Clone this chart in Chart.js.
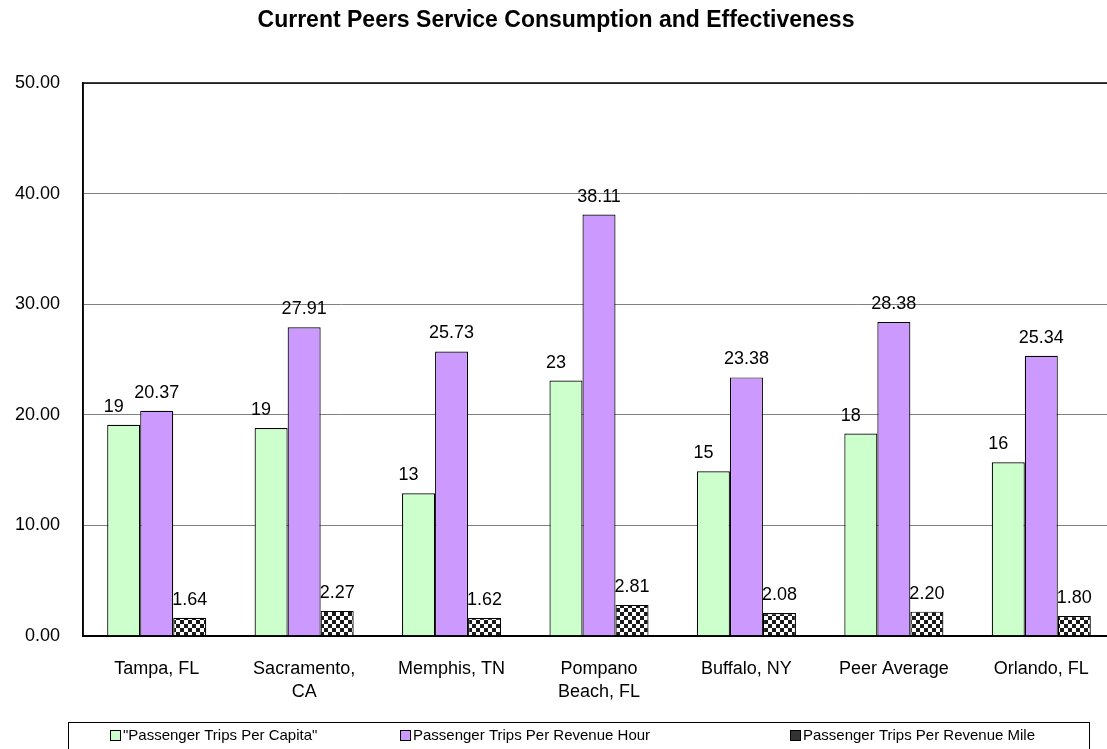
<!DOCTYPE html>
<html>
<head>
<meta charset="utf-8">
<script src="https://cdn.jsdelivr.net/npm/chart.js@4.4.1/dist/chart.umd.min.js"></script>
<style>
  body { margin: 0; background: #fff; }
  #wrap { width: 1107px; height: 749px; overflow: hidden; position: relative; }
</style>
</head>
<body>
<div id="wrap"><canvas id="chart" width="1130" height="749"></canvas></div>
<script>
const chartTitle = 'Current Peers Service Consumption and Effectiveness';
const categories = ['Tampa, FL', ['Sacramento,', 'CA'], 'Memphis, TN', ['Pompano', 'Beach, FL'], 'Buffalo, NY', 'Peer Average', 'Orlando, FL'];
const seriesNames = ['"Passenger Trips Per Capita"', 'Passenger Trips Per Revenue Hour', 'Passenger Trips Per Revenue Mile'];
const tripsPerCapita = [19.1, 18.8, 12.9, 23.1, 14.9, 18.3, 15.7];
const tripsPerHour = [20.37, 27.91, 25.73, 38.11, 23.38, 28.38, 25.34];
const tripsPerMile = [1.64, 2.27, 1.62, 2.81, 2.08, 2.20, 1.80];
const labelDecimals = [0, 2, 2];
const yMin = 0, yMax = 50, yStep = 10;

const FONT = 'Arial, "Liberation Sans", sans-serif';

// checkered fill like the old excel pattern
function makeChecker() {
    let c = document.createElement('canvas');
    c.width = 8; c.height = 8;
    let g = c.getContext('2d');
    g.fillStyle = '#fff';
    g.fillRect(0, 0, 8, 8);
    g.fillStyle = '#1a1a1a';
    g.fillRect(0, 0, 4, 4);
    g.fillRect(4, 4, 4, 4);
    return g.createPattern(c, 'repeat');
}
const checker = makeChecker();

const valueLabels = {
    id: 'valueLabels',
    afterDatasetsDraw(chart) {
        const ctx = chart.ctx;
        const shift = [-10, 0, 0]; // excel nudges the first label left
        ctx.save();
        ctx.font = '18px ' + FONT;
        ctx.fillStyle = '#000';
        ctx.textAlign = 'center';
        ctx.textBaseline = 'alphabetic';
        chart.data.datasets.forEach((ds, i) => {
            chart.getDatasetMeta(i).data.forEach((bar, j) => {
                ctx.fillText(ds.data[j].toFixed(labelDecimals[i]), bar.x + shift[i], bar.y - 13);
            });
        });
        ctx.restore();
    }
};

const frameAndText = {
    id: 'frameAndText',
    afterDraw(chart) {
        const ctx = chart.ctx;
        const a = chart.chartArea;
        ctx.save();
        // plot frame
        ctx.strokeStyle = '#000';
        ctx.lineWidth = 1.5;
        ctx.strokeRect(a.left, a.top, a.right - a.left, a.bottom - a.top);

        // title, centred on the visible picture
        ctx.font = 'bold 23px ' + FONT;
        ctx.fillStyle = '#000';
        ctx.textAlign = 'center';
        ctx.textBaseline = 'middle';
        ctx.fillText(chartTitle, 556, 21);

        // legend box
        ctx.lineWidth = 1;
        ctx.strokeStyle = '#000';
        ctx.strokeRect(68.5, 722.5, 1021, 40);
        const itemX = [110, 400, 790];
        ctx.font = '15px ' + FONT;
        ctx.textAlign = 'left';
        chart.data.datasets.forEach((ds, i) => {
            const x = itemX[i];
            ctx.fillStyle = i === 2 ? '#333' : ds.backgroundColor;
            ctx.fillRect(x, 730, 10, 10);
            ctx.strokeRect(x + 0.5, 730.5, 10, 10);
            ctx.fillStyle = '#000';
            ctx.fillText(ds.label, x + 13, 736);
        });
        ctx.restore();
    }
};

new Chart(document.getElementById('chart'), {
    type: 'bar',
    data: {
        labels: categories,
        datasets: [
            { label: seriesNames[0], data: tripsPerCapita, backgroundColor: '#CCFFCC' },
            { label: seriesNames[1], data: tripsPerHour, backgroundColor: '#CC99FF' },
            { label: seriesNames[2], data: tripsPerMile, backgroundColor: checker }
        ]
    },
    options: {
        responsive: false,
        animation: false,
        layout: { padding: { top: 83, right: 15, bottom: 0, left: 0 } },
        datasets: {
            bar: {
                borderColor: '#000',
                borderWidth: 1.2,
                barPercentage: 1,
                categoryPercentage: 0.672
            }
        },
        plugins: {
            legend: { display: false },
            title: { display: false },
            tooltip: { enabled: false }
        },
        scales: {
            x: {
                grid: { display: false },
                border: { display: true, color: '#000', width: 2 },
                ticks: {
                    color: '#000',
                    font: { family: FONT, size: 18, lineHeight: 1.25 },
                    padding: 14,
                    maxRotation: 0,
                    autoSkip: false
                },
                afterFit(scale) { scale.height = 113; }
            },
            y: {
                min: yMin,
                max: yMax,
                grid: { color: '#808080', lineWidth: 1, drawTicks: false },
                border: { display: true, color: '#000', width: 1.5 },
                ticks: {
                    stepSize: yStep,
                    color: '#000',
                    font: { family: FONT, size: 18 },
                    padding: 23,
                    callback: v => v.toFixed(2)
                },
                afterFit(scale) { scale.width = 83; }
            }
        }
    },
    plugins: [valueLabels, frameAndText]
});
</script>
</body>
</html>
